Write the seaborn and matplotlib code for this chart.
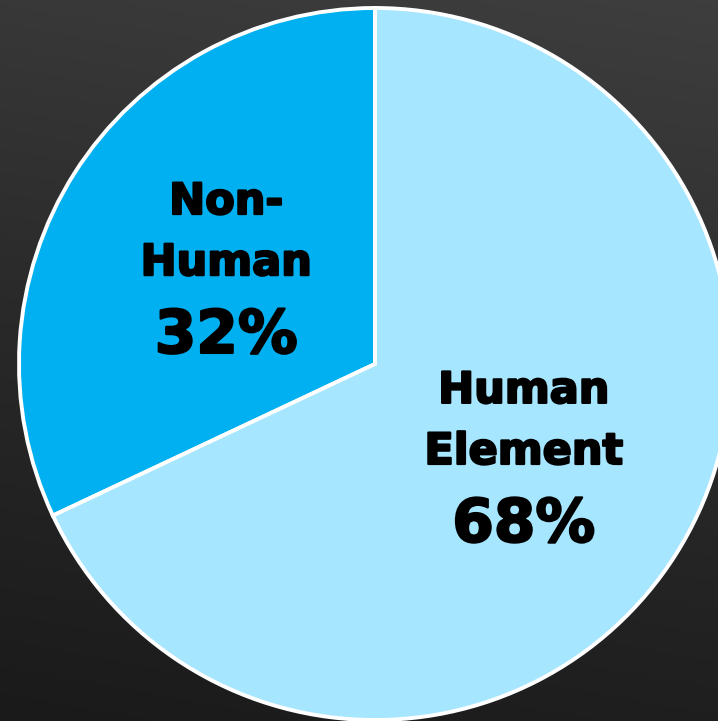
import numpy as np
import matplotlib
matplotlib.use("Agg")
import matplotlib.pyplot as plt
import matplotlib.patheffects as pe
import seaborn as sns
from matplotlib.colors import LinearSegmentedColormap

# ---- data ----
categories = ["Non-\nHuman", "Human\nElement"]
values = [32, 68]
pct_labels = ["32%", "68%"]
colors = ["#00B0F0", "#A6E6FF"]

sns.set_theme(style="white")
plt.rcParams['font.family'] = ['DejaVu Sans']

W, H = 718, 721
fig = plt.figure(figsize=(W / 100, H / 100), dpi=100)

# background gradient
bg = fig.add_axes([0, 0, 1, 1])
cmap = LinearSegmentedColormap.from_list("bg", ["#1a1a1a", "#2a2a2a", "#3e3e3e"])
yy, xx = np.mgrid[0:1:200j, 0:1:200j]
grad = 0.85 * yy + 0.15 * xx
bg.imshow(grad, cmap=cmap, origin="lower", extent=[0, 1, 0, 1], aspect="auto", vmin=0, vmax=1)
bg.set_axis_off()

cx, cy, r = 375, 364, 356
ax = fig.add_axes([(cx - r) / W, (H - cy - r) / H, 2 * r / W, 2 * r / H])
ax.patch.set_alpha(0)

wedges, _ = ax.pie(values, colors=colors, startangle=90, counterclock=True,
                   radius=1, labels=None,
                   wedgeprops=dict(edgecolor="white", linewidth=2.8))
ax.set_xlim(-1, 1)
ax.set_ylim(-1, 1)
ax.set_aspect("auto")
ax.set_axis_off()

stroke = [pe.withStroke(linewidth=1.6, foreground="black")]
for w, name, pct in zip(wedges, categories, pct_labels):
    ang = np.deg2rad((w.theta1 + w.theta2) / 2)
    px, py = 0.495 * np.cos(ang), 0.495 * np.sin(ang)
    l1, l2 = name.split("\n")
    for txt, off, size in [(l1, 40, 31), (l2, -4, 31), (pct, -60, 43)]:
        ax.annotate(txt, (px, py), xytext=(0, off), textcoords="offset points",
                    ha="center", va="baseline", fontsize=size,
                    fontweight="bold", color="black", path_effects=stroke)

fig.savefig("out.png", dpi=100)
